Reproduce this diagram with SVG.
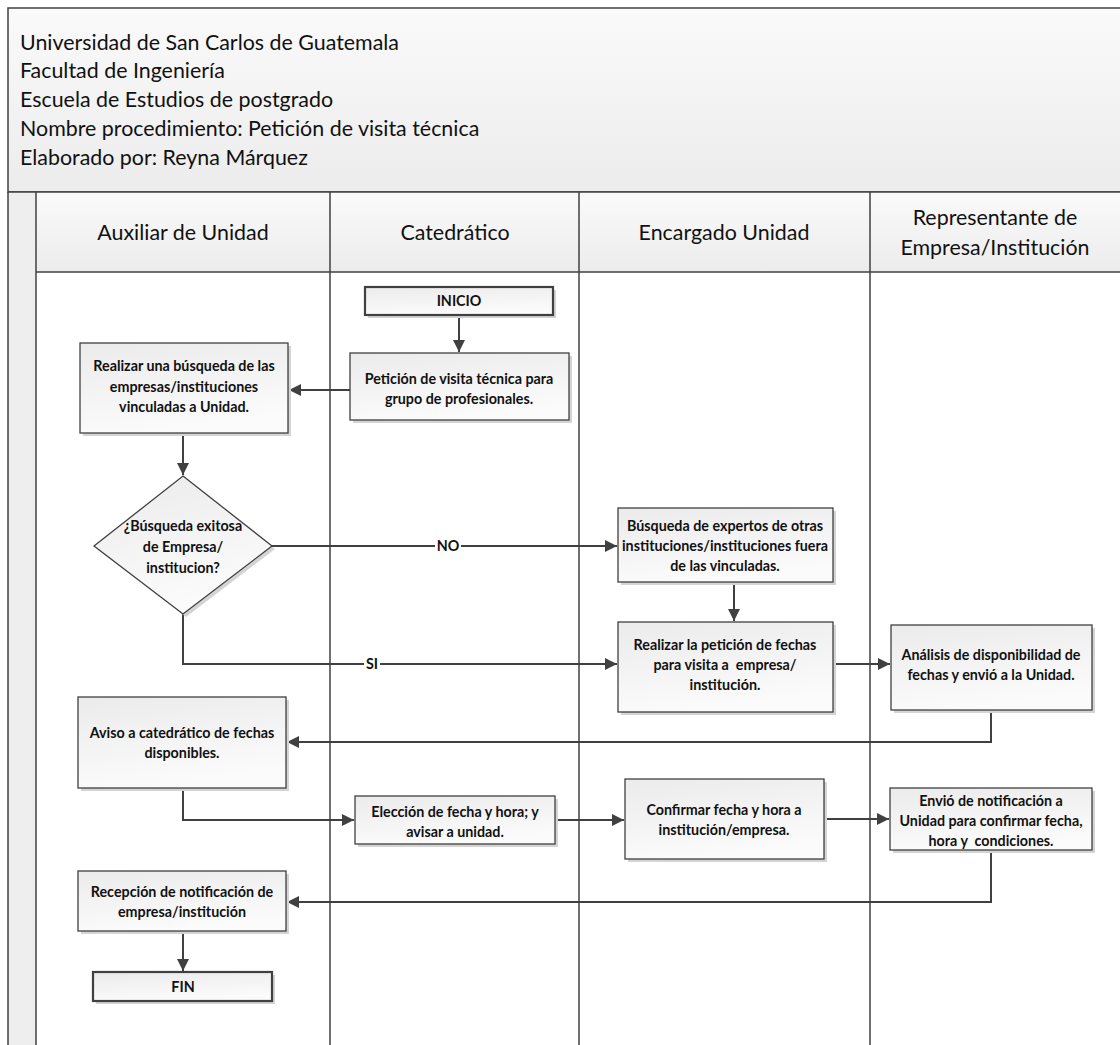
<svg xmlns="http://www.w3.org/2000/svg" width="1120" height="1045" viewBox="0 0 1120 1045">
<style>
.hdr{font-family:Lato,"Open Sans","Liberation Sans",sans-serif;font-size:21.4px;fill:#111}
.lane{font-family:Lato,"Open Sans","Liberation Sans",sans-serif;font-size:21.4px;fill:#111;text-anchor:middle}
.t{font-family:Lato,"Open Sans","Liberation Sans",sans-serif;font-size:14.3px;font-weight:bold;fill:#111;text-anchor:middle;white-space:pre}
.box{fill:url(#g);stroke:#404040;stroke-width:1.3}
.sh{fill:#d4d4d4}
.term{fill:url(#g);stroke:#404040;stroke-width:2.2}
.c{fill:none;stroke:#404040;stroke-width:2}
.ln{stroke:#404040;stroke-width:1.5;fill:none}
</style>
<defs>
<linearGradient id="g" x1="0" y1="0" x2="0.3" y2="1">
<stop offset="0" stop-color="#ebebeb"/>
<stop offset="1" stop-color="#fbfbfb"/>
</linearGradient>
<linearGradient id="hg" x1="0" y1="0" x2="0" y2="1">
<stop offset="0" stop-color="#fafafa"/>
<stop offset="1" stop-color="#ececec"/>
</linearGradient>
<marker id="a" viewBox="0 0 12 12" refX="12" refY="6" markerWidth="12" markerHeight="12" markerUnits="userSpaceOnUse" orient="auto">
<path d="M0,0 L12,6 L0,12 Z" fill="#404040"/>
</marker>
</defs>
<rect width="1120" height="1045" fill="#fff"/>
<g id="pool">
<rect x="8" y="8" width="1120" height="184" fill="url(#hg)" stroke="#404040" stroke-width="1.5"/>
<text class="hdr" x="20" y="50">Universidad de San Carlos de Guatemala</text>
<text class="hdr" x="20" y="78">Facultad de Ingeniería</text>
<text class="hdr" x="20" y="107">Escuela de Estudios de postgrado</text>
<text class="hdr" x="20" y="136">Nombre procedimiento: Petición de visita técnica</text>
<text class="hdr" x="20" y="165">Elaborado por: Reyna Márquez</text>
<rect x="8" y="192" width="28" height="860" fill="#eeeeee"/>
<rect x="36" y="192" width="1090" height="80" fill="url(#hg)"/>
<line class="ln" x1="8" y1="192" x2="1120" y2="192"/>
<line class="ln" x1="8" y1="192" x2="8" y2="1045"/>
<line class="ln" x1="36" y1="192" x2="36" y2="1045"/>
<line class="ln" x1="36" y1="272" x2="1120" y2="272"/>
<line class="ln" x1="330" y1="192" x2="330" y2="1045"/>
<line class="ln" x1="579" y1="192" x2="579" y2="1045"/>
<line class="ln" x1="870" y1="192" x2="870" y2="1045"/>
<text class="lane" x="183" y="240">Auxiliar de Unidad</text>
<text class="lane" x="455" y="240">Catedrático</text>
<text class="lane" x="724" y="240">Encargado Unidad</text>
<text class="lane" x="995" y="225">Representante de</text>
<text class="lane" x="995" y="255">Empresa/Institución</text>
</g>
<g id="connectors">
<line class="c" x1="459" y1="315" x2="459" y2="352" marker-end="url(#a)"/>
<line class="c" x1="350" y1="390" x2="289" y2="390" marker-end="url(#a)"/>
<line class="c" x1="183" y1="433" x2="183" y2="475" marker-end="url(#a)"/>
<line class="c" x1="272" y1="546" x2="617" y2="546" marker-end="url(#a)"/>
<line class="c" x1="734" y1="582" x2="734" y2="621" marker-end="url(#a)"/>
<polyline class="c" points="183,614 183,664 617,664" marker-end="url(#a)"/>
<line class="c" x1="833" y1="664" x2="890" y2="664" marker-end="url(#a)"/>
<polyline class="c" points="991,710 991,742 287,742" marker-end="url(#a)"/>
<polyline class="c" points="183,788 183,820 354,820" marker-end="url(#a)"/>
<line class="c" x1="555" y1="820" x2="624" y2="820" marker-end="url(#a)"/>
<line class="c" x1="824" y1="819" x2="889" y2="819" marker-end="url(#a)"/>
<polyline class="c" points="991,850 991,902 287,902" marker-end="url(#a)"/>
<line class="c" x1="183" y1="931" x2="183" y2="971" marker-end="url(#a)"/>
<rect x="435" y="539" width="26" height="14" fill="#fff"/>
<text class="t" x="448" y="551">NO</text>
<rect x="364" y="657" width="16" height="14" fill="#fff"/>
<text class="t" x="372" y="669">SI</text>
</g>
<g id="inicio">
<rect class="sh" x="368" y="290" width="188" height="28"/>
<rect class="term" x="365" y="287" width="188" height="28"/>
<text class="t" x="459" y="306">INICIO</text>
</g>
<g id="peticion">
<rect class="sh" x="353" y="356" width="219" height="67"/>
<rect class="box" x="350" y="353" width="219" height="67"/>
<text class="t" x="459" y="384">Petición de visita técnica para</text>
<text class="t" x="459" y="404">grupo de profesionales.</text>
</g>
<g id="busqueda">
<rect class="sh" x="83" y="346" width="208" height="90"/>
<rect class="box" x="80" y="343" width="208" height="90"/>
<text class="t" x="184" y="371">Realizar una búsqueda de las</text>
<text class="t" x="184" y="392">empresas/instituciones</text>
<text class="t" x="184" y="412">vinculadas a Unidad.</text>
</g>
<g id="decision">
<polygon points="186,479 275,549 186,617 97,549" fill="#d4d4d4"/>
<polygon points="183,476 272,546 183,614 94,546" fill="url(#g)" stroke="#404040" stroke-width="1.3"/>
<text class="t" x="183" y="531">¿Búsqueda exitosa</text>
<text class="t" x="183" y="552">de Empresa/</text>
<text class="t" x="183" y="573">institucion?</text>
</g>
<g id="expertos">
<rect class="sh" x="621" y="511" width="215" height="74"/>
<rect class="box" x="618" y="508" width="215" height="74"/>
<text class="t" x="725" y="531">Búsqueda de expertos de otras</text>
<text class="t" x="725" y="551">instituciones/instituciones fuera</text>
<text class="t" x="725" y="571">de las vinculadas.</text>
</g>
<g id="fechas">
<rect class="sh" x="621" y="625" width="215" height="90"/>
<rect class="box" x="618" y="622" width="215" height="90"/>
<text class="t" x="725" y="650">Realizar la petición de fechas</text>
<text class="t" x="725" y="670">para visita a  empresa/</text>
<text class="t" x="725" y="690">institución.</text>
</g>
<g id="analisis">
<rect class="sh" x="894" y="628" width="201" height="85"/>
<rect class="box" x="891" y="625" width="201" height="85"/>
<text class="t" x="991" y="660">Análisis de disponibilidad de</text>
<text class="t" x="991" y="680">fechas y envió a la Unidad.</text>
</g>
<g id="aviso">
<rect class="sh" x="81" y="700" width="208" height="91"/>
<rect class="box" x="78" y="697" width="208" height="91"/>
<text class="t" x="182" y="738">Aviso a catedrático de fechas</text>
<text class="t" x="182" y="758">disponibles.</text>
</g>
<g id="eleccion">
<rect class="sh" x="358" y="799" width="200" height="48"/>
<rect class="box" x="355" y="796" width="200" height="48"/>
<text class="t" x="455" y="817">Elección de fecha y hora; y</text>
<text class="t" x="455" y="837">avisar a unidad.</text>
</g>
<g id="confirmar">
<rect class="sh" x="628" y="782" width="199" height="80"/>
<rect class="box" x="625" y="779" width="199" height="80"/>
<text class="t" x="724" y="815">Confirmar fecha y hora a</text>
<text class="t" x="724" y="835">institución/empresa.</text>
</g>
<g id="envio">
<rect class="sh" x="893" y="791" width="202" height="62"/>
<rect class="box" x="890" y="788" width="202" height="62"/>
<text class="t" x="991" y="806">Envió de notificación a</text>
<text class="t" x="991" y="826">Unidad para confirmar fecha,</text>
<text class="t" x="991" y="846">hora y  condiciones.</text>
</g>
<g id="recepcion">
<rect class="sh" x="81" y="874" width="208" height="60"/>
<rect class="box" x="78" y="871" width="208" height="60"/>
<text class="t" x="182" y="897">Recepción de notificación de</text>
<text class="t" x="182" y="917">empresa/institución</text>
</g>
<g id="fin">
<rect class="sh" x="96" y="975" width="179" height="29"/>
<rect class="term" x="93" y="972" width="179" height="29"/>
<text class="t" x="183" y="992">FIN</text>
</g>
</svg>
